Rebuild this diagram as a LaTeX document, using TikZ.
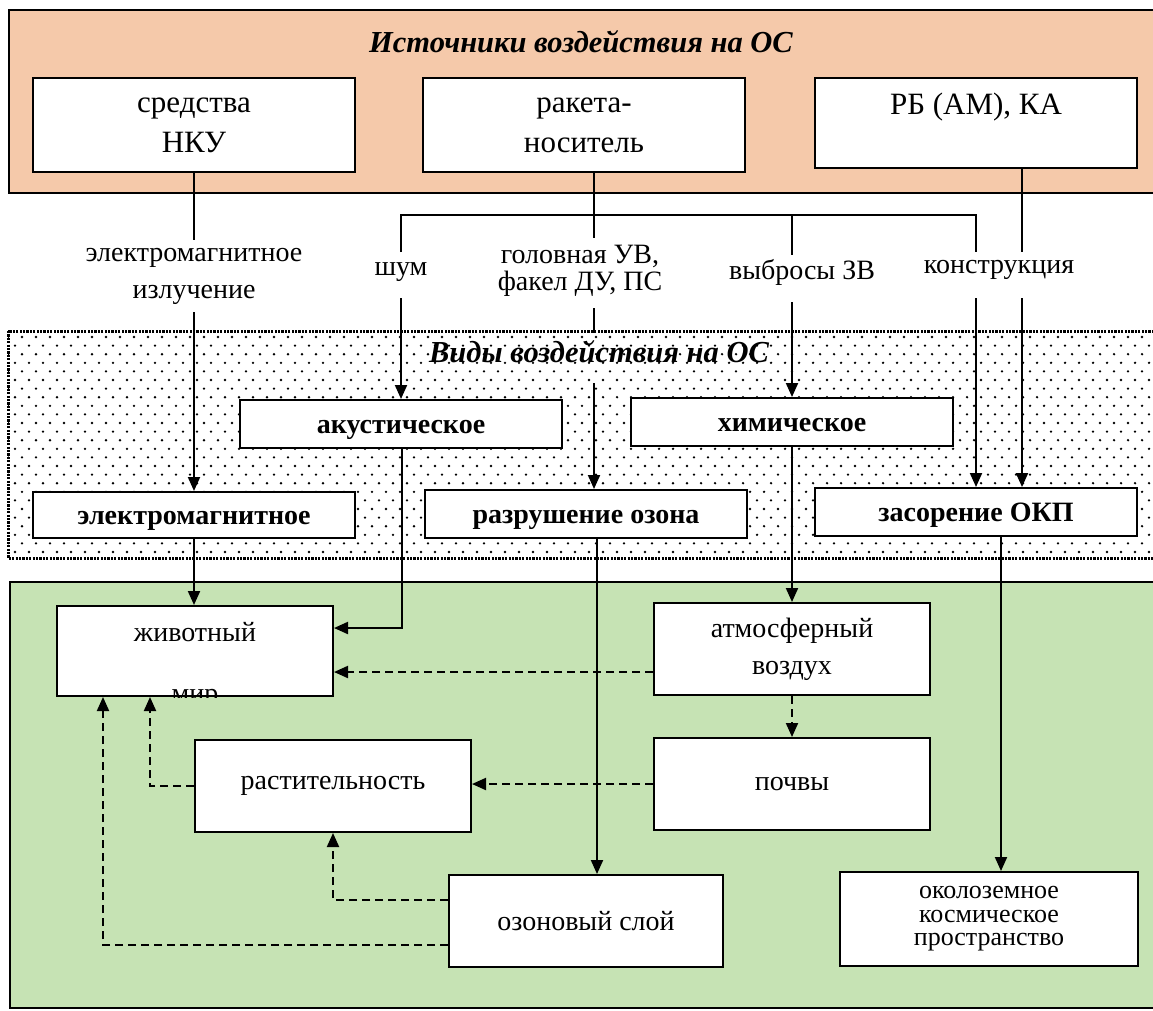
\documentclass[tikz,border=0pt]{standalone}
\usepackage{fontspec}
\setmainfont{Liberation Serif}
\usetikzlibrary{arrows.meta,calc}
\definecolor{peach}{RGB}{245,201,170}
\definecolor{leaf}{RGB}{198,227,180}
\begin{document}
\begin{tikzpicture}[x=1pt,y=-1pt,
  box/.style={draw=black, line width=2pt, fill=white, inner sep=0pt, align=center, font=\fontsize{28}{40}\selectfont},
  tbox/.style={box, font=\fontsize{31}{40}\selectfont},
  bbox/.style={draw=black, line width=2pt, fill=white, inner sep=0pt, text height=18pt, text depth=0pt, font=\bfseries\fontsize{28}{32}\selectfont},
  plain/.style={line width=2pt},
  conn/.style={line width=2pt, -{Triangle[length=14pt,width=12pt]}},
  dconn/.style={conn, dash pattern=on 8pt off 5pt},
  lbl/.style={inner sep=0pt, align=center, font=\fontsize{28}{37}\selectfont},
  ttl/.style={inner sep=0pt, font=\bfseries\itshape\fontsize{30.5}{34}\selectfont}
]
\clip (0,0) rectangle (1153,1010);
\fill[white] (0,0) rectangle (1153,1010);

% ---- bands
\draw[line width=2pt, fill=peach] (9,10) rectangle (1170,193);
\draw[line width=2pt, fill=leaf] (10,582) rectangle (1170,1008);
\begin{scope}
  \clip (8,331) rectangle (1170,558);
  \foreach \j in {0,...,26} {
    \pgfmathsetmacro\off{mod(\j,2)*7}
    \foreach \i in {0,...,83} {
      \fill ({\i*14+\off+8},{337+\j*8.6}) circle (1.3pt);
    }
  }
\end{scope}
\draw[line width=3pt, dash pattern=on 2.2pt off 1.2pt] (8,331) rectangle (1170,558);

% ---- titles
\node[ttl] (t1) at (581,42) {Источники воздействия на ОС};
\node[ttl] (t2) at (599,352) {Виды воздействия на ОС};

% ---- source boxes
\node[tbox, minimum width=322pt, minimum height=94pt] (nku) at (194,125) {средства\\НКУ};
\node[tbox, minimum width=322pt, minimum height=94pt] (rn) at (584,125) {ракета-\\носитель};
\node[tbox, minimum width=322pt, minimum height=90pt] (rb) at (976,123) {};
\node[lbl, font=\fontsize{31}{37}\selectfont] (rbt) at (976,107) {РБ (АМ), КА};

% ---- labels
\node[lbl] (l1) at (194,276) {электромагнитное\\излучение};
\node[lbl, font=\fontsize{28}{27}\selectfont] (l3) at (580,271) {головная УВ,\\факел ДУ, ПС};
\node[lbl] (l2) at (401,272) {шум};
\node[lbl] (l4) at (802,272) {выбросы ЗВ};
\node[lbl] (l5) at (999,270) {конструкция};

% ---- kinds of impact
\node[bbox, minimum width=322pt, minimum height=48pt] (ak) at (401,424) {акустическое};
\node[bbox, minimum width=322pt, minimum height=48pt] (him) at (792,422) {химическое};
\node[bbox, minimum width=322pt, minimum height=46pt] (em) at (194,515) {электромагнитное};
\node[bbox, minimum width=322pt, minimum height=48pt] (oz) at (586,514) {разрушение озона};
\node[bbox, minimum width=322pt, minimum height=48pt] (zas) at (976,512) {засорение ОКП};

% ---- environment
\node[box, minimum width=276pt, minimum height=90pt] (ziv) at (195,651) {};
\node[lbl] (zivt) at (195,632) {животный};
\begin{scope}
  \clip (ziv.south west) rectangle (ziv.north east);
  \node[lbl, anchor=base] (mir) at (195,702) {мир};
\end{scope}
\node[box, minimum width=276pt, minimum height=92pt, font=\fontsize{28}{37}\selectfont] (atm) at (792,649) {атмосферный\\воздух};
\node[box, minimum width=276pt, minimum height=92pt] (poc) at (792,784) {почвы};
\node[box, minimum width=276pt, minimum height=92pt] (ras) at (333,786) {растительность};
\node[box, minimum width=274pt, minimum height=92pt] (ozs) at (586,921) {озоновый слой};
\node[box, minimum width=298pt, minimum height=94pt, font=\fontsize{26}{23.5}\selectfont] (okp) at (989,919) {околоземное\\космическое\\пространство};

% ---- connectors, upper
\coordinate (c1) at (194,240);
\coordinate (c2) at (194,312);
\draw[plain] (nku.south) -- (c1);
\draw[conn] (c2) -- (em.north);

\coordinate (tr) at (594,215);
\coordinate (bL) at (401,215);
\coordinate (bR) at (976,215);
\coordinate (bC) at (792,215);
\draw[plain] ([xshift=10pt]rn.south) -- (tr);
\draw[plain] (401,252) -- (bL) -- (bR) -- (976,252);
\draw[plain] (tr) -- (594,238);
\draw[plain] (bC) -- (792,255);
\draw[plain] ([xshift=46pt]rb.south) -- (1022,252);

\draw[conn] (401,298) -- (ak.north);
\draw[plain] (594,308) -- (594,333);
\draw[conn] (594,383) -- ([xshift=8pt]oz.north);
\draw[conn] (792,302) -- (him.north);
\draw[conn] (976,298) -- (zas.north);
\draw[conn] (1022,298) -- ([xshift=46pt]zas.north);

% ---- connectors, lower
\draw[conn] (em.south) -- (em.south |- ziv.north);
\draw[conn] ([xshift=1pt]ak.south) |- ([yshift=23pt]ziv.east);
\draw[conn] (him.south) -- (atm.north);
\draw[dconn] ([yshift=-23pt]atm.west) -- ([yshift=-23pt]atm.west -| ziv.east);
\draw[dconn] (atm.south) -- (poc.north);
\draw[dconn] (poc.west) -- (poc.west -| ras.east);
\draw[dconn] (ras.west) -| ([xshift=-45pt]ziv.south);
\draw[dconn] ([yshift=21pt]ozs.west) -| (ras.south);
\draw[dconn] ([yshift=-24pt]ozs.west) -| ([xshift=-92pt]ziv.south);
\draw[conn] ([xshift=11pt]oz.south) -- ([xshift=11pt]ozs.north);
\draw[conn] ([xshift=25pt]zas.south) -- ([xshift=12pt]okp.north);
\end{tikzpicture}
\end{document}
